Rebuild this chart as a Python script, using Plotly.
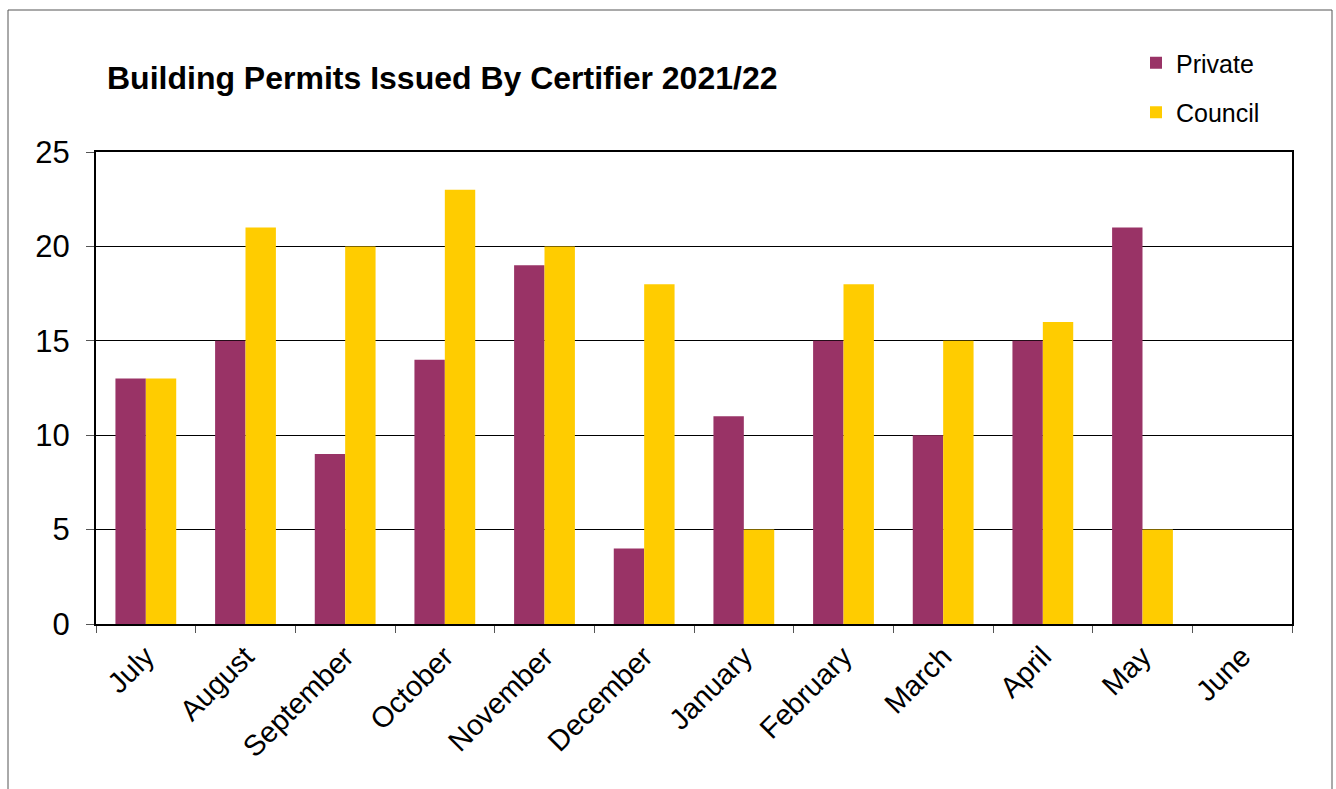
import plotly.graph_objects as go

months = ["July", "August", "September", "October", "November", "December",
          "January", "February", "March", "April", "May", "June"]
private = [13, 15, 9, 14, 19, 4, 11, 15, 10, 15, 21, 0]
council = [13, 21, 20, 23, 20, 18, 5, 18, 15, 16, 5, 0]
y_ticks = [0, 5, 10, 15, 20, 25]

W, H = 1336, 789
L, R, T, B = 96, 44, 152, 165
pw, ph = W - L - R, H - T - B

def px_x(p):
    return (p - L) / pw

def px_y(p):
    return (H - B - p) / ph

fig = go.Figure()
fig.add_trace(go.Bar(x=months, y=private, name="Private", marker_color="#993366",
                     marker_line_width=0, legendgroup="a"))
fig.add_trace(go.Bar(x=months, y=council, name="Council", marker_color="#FFCC00",
                     marker_line_width=0, legendgroup="b"))

fig.update_layout(
    width=W, height=H,
    margin=dict(l=L, r=R, t=T, b=B, autoexpand=False),
    paper_bgcolor="white", plot_bgcolor="white",
    font=dict(family="Liberation Sans, Arial, sans-serif", color="black"),
    barmode="group", bargap=0.39, bargroupgap=0,
    title=dict(text="<b>Building Permits Issued By Certifier 2021/22</b>",
               x=107 / W, xref="container", xanchor="left",
               y=1 - 78 / H, yanchor="middle", font=dict(size=32, color="black")),
    legend=dict(x=px_x(1136), y=px_y(40), xanchor="left", yanchor="top",
                font=dict(size=25), tracegroupgap=14, itemwidth=30,
                bgcolor="rgba(0,0,0,0)"),
    showlegend=True,
)
fig.update_xaxes(type="category", showline=True, linecolor="black", linewidth=2,
                 mirror=True, ticks="outside", tickson="boundaries", ticklen=7,
                 tickcolor="#555555", tickwidth=1, tickangle=-45,
                 tickfont=dict(size=29), showgrid=False, ticklabelstandoff=2)
fig.update_yaxes(range=[0, 25], tickvals=y_ticks, showline=True, linecolor="black",
                 linewidth=2, mirror=True, ticks="outside", ticklen=8,
                 tickcolor="#555555", tickwidth=1, showgrid=True, gridcolor="black",
                 gridwidth=1, tickfont=dict(size=31), zeroline=False,
                 ticklabelstandoff=10)

fig.add_shape(type="rect", xref="paper", yref="paper",
              x0=px_x(8), x1=px_x(1332), y0=px_y(800), y1=px_y(10),
              line=dict(color="#555555", width=1), fillcolor="rgba(0,0,0,0)",
              layer="below")

fig.write_html("out.html")
